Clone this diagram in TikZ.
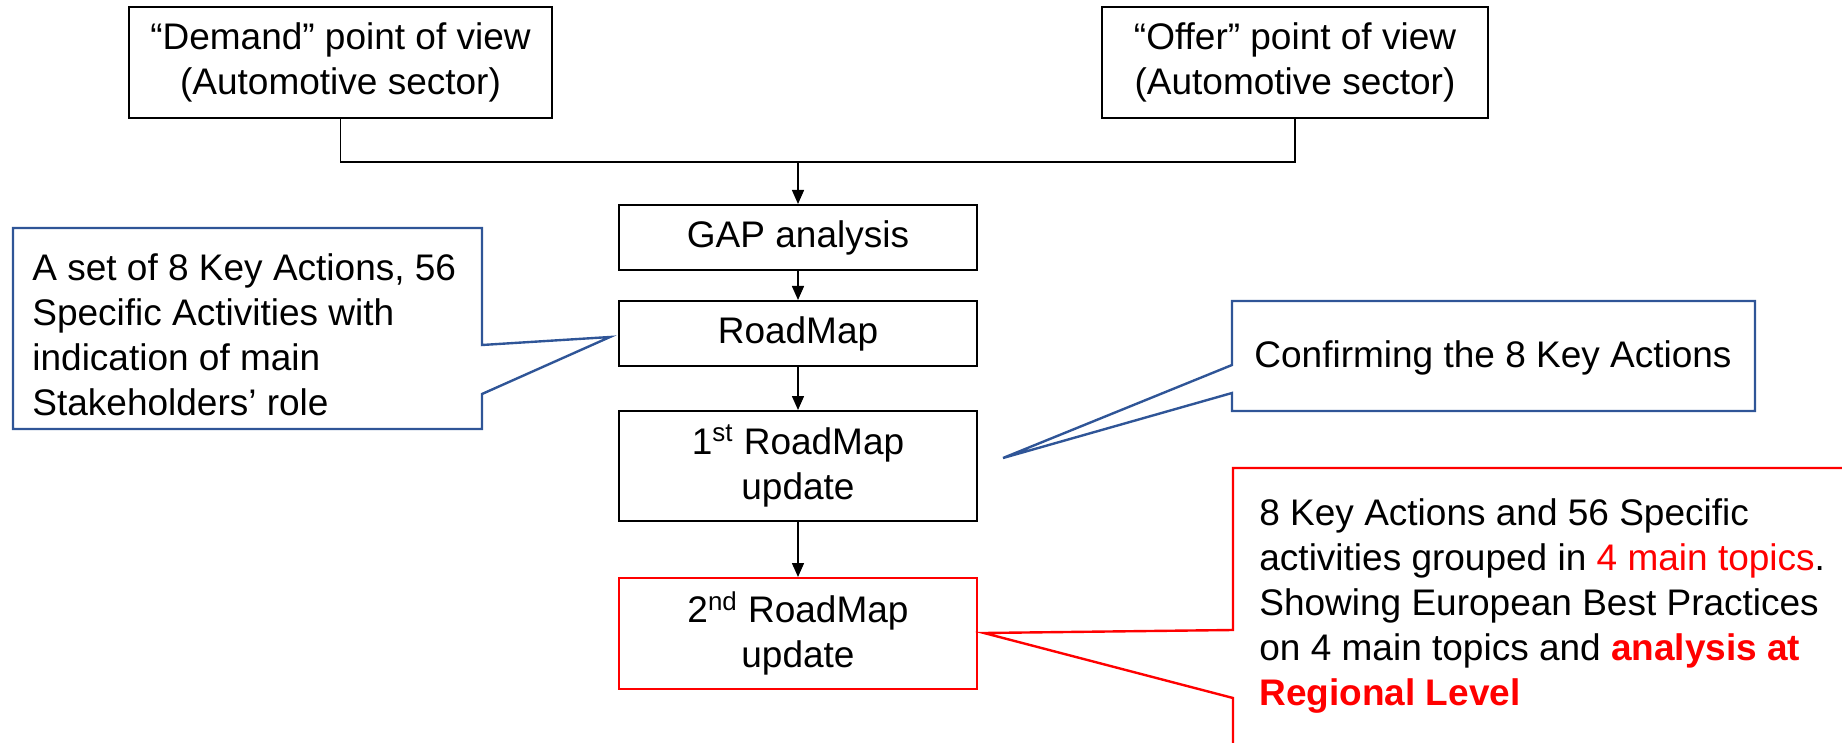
\documentclass[tikz,border=0pt]{standalone}
\usepackage{fontspec}
\setmainfont{Liberation Sans}
\usetikzlibrary{arrows.meta}
\definecolor{callblue}{RGB}{47,85,151}
\definecolor{hotred}{RGB}{255,0,0}

\begin{document}
\begin{tikzpicture}[x=0.5pt,y=-0.5pt,
  font=\fontsize{18.5}{22.5}\selectfont,
  stagebox/.style={draw=black, line width=1pt, inner sep=0pt, align=center,
    minimum width=179pt},
  flow/.style={draw=black, line width=0.75pt},
  flowarrow/.style={flow, -{Triangle[length=7pt,width=6pt]}},
  bluecall/.style={draw=callblue, line width=1.2pt, line join=miter},
  redcall/.style={draw=hotred, line width=1.2pt, line join=miter}]

\useasboundingbox (0,0) rectangle (1842,743);
\clip (0,0) rectangle (1842,743);

% the two points of view
\node[stagebox, minimum width=211.5pt, minimum height=55.5pt] (demand) at (340.5,62.5)
  {“Demand” point of view\\(Automotive sector)};
\node[stagebox, minimum width=193pt, minimum height=55.5pt] (offer) at (1295,62.5)
  {“Offer” point of view\\(Automotive sector)};

% main flow
\node[stagebox, minimum height=32.5pt] (gap) at (798,237.5) {GAP analysis};
\node[stagebox, minimum height=32.5pt] (road) at (798,333.5) {RoadMap};
\node[stagebox, minimum height=55pt] (first) at (798,466)
  {1\textsuperscript{st} RoadMap\\update};
\node[stagebox, draw=hotred, minimum height=55.5pt] (second) at (798,633.5)
  {2\textsuperscript{nd} RoadMap\\update};

\coordinate (join) at (798,162);
\draw[flow] (demand.south) |- (join) -| (offer.south);
\draw[flowarrow] (join) -- (gap.north);
\draw[flowarrow] (gap.south) -- (road.north);
\draw[flowarrow] (road.south) -- (first.north);
\draw[flowarrow] (first.south) -- (second.north);

% callout: RoadMap
\coordinate (tipA) at (610,337);
\draw[bluecall] (13,228) -- (482,228) -- (482,345) -- (tipA) -- (482,394)
  -- (482,429) -- (13,429) -- cycle;
\node[anchor=west, align=left, inner sep=0pt] (noteA) at (32,335)
  {A set of 8 Key Actions, 56\\Specific Activities with\\indication of main\\Stakeholders’ role};

% callout: 1st update
\coordinate (tipB) at (1003,458);
\draw[bluecall] (1232,301) -- (1755,301) -- (1755,411) -- (1232,411)
  -- (1232,393) -- (tipB) -- (1232,365) -- cycle;
\node[inner sep=0pt] (noteB) at (1493,358) {Confirming the 8 Key Actions};

% callout: 2nd update
\coordinate (tipC) at (984,633);
\draw[redcall] (1860,468) -- (1233,468) -- (1233,630) -- (tipC) -- (1233,698)
  -- (1233,760);
\node[anchor=west, align=left, inner sep=0pt] (noteC) at (1259,606)
  {8 Key Actions and 56 Specific\\
   activities grouped in \textcolor{hotred}{4 main topics}.\\
   Showing European Best Practices\\
   on 4 main topics and \textcolor{hotred}{\bfseries analysis at}\\
   \textcolor{hotred}{\bfseries Regional Level}};
\end{tikzpicture}
\end{document}
